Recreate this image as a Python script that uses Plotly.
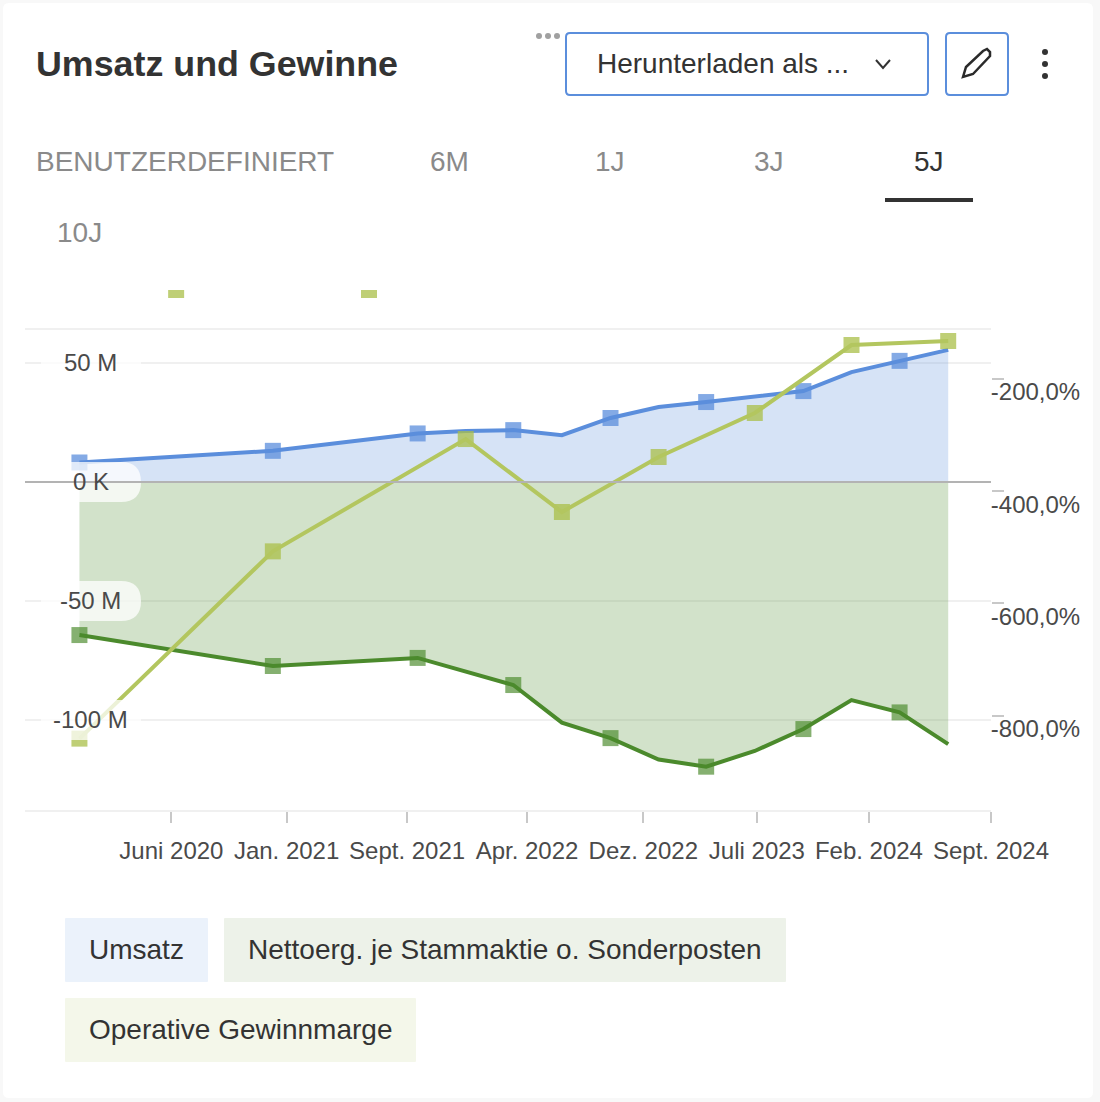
import plotly.graph_objects as go

# ---------- data ----------
quarters = ["2019-12-08","2020-03-08","2020-06-08","2020-09-08","2020-12-08","2021-03-08","2021-06-08",
            "2021-09-08","2021-12-08","2022-03-08","2022-06-08","2022-09-08","2022-12-08","2023-03-08",
            "2023-06-08","2023-09-08","2023-12-08","2024-03-08","2024-06-08"]

revenue_idx = [0,4,7,8,9,10,11,12,13,14,15,16,17,18]
revenue     = [8.2,13.1,20.4,21.4,21.8,19.7,26.9,31.5,33.6,36.1,38.2,46.2,50.9,55.5]
revenue_marker_idx = [0,4,7,9,11,13,15,17]

net_idx = [0,4,7,9,10,11,12,13,14,15,16,17,18]
net     = [-64.3,-77.3,-73.9,-85.3,-101.1,-107.6,-116.6,-119.6,-113.0,-103.8,-91.6,-96.8,-110.1]
net_marker_idx = [0,4,7,9,11,13,15,17]

margin_idx = [0,4,8,10,12,14,16,18]
margin     = [-840.8,-507.1,-307.0,-437.0,-339.0,-260.6,-139.4,-132.3]
margin_offscale_idx = [2,6]
margin_offscale = [-41.4,-41.4]

left_ticks = [64.3,50,0,-50,-100]
left_labels = {50:"50 M",0:"0 K",-50:"-50 M",-100:"-100 M"}
right_ticks = [-200,-400,-600,-800]
right_labels = ["-200,0%","-400,0%","-600,0%","-800,0%"]
x_ticks = ["2020-05-30","2021-01-03","2021-08-19","2022-04-03","2022-11-09","2023-06-12","2024-01-10","2024-08-28"]
x_labels = ["Juni 2020","Jan. 2021","Sept. 2021","Apr. 2022","Dez. 2022","Juli 2023","Feb. 2024","Sept. 2024"]
tabs = [("BENUTZERDEFINIERT",34,161,"#8a8a8a"),("6M",449,161,"#8a8a8a"),("1J",610,161,"#8a8a8a"),
        ("3J",769,161,"#8a8a8a"),("5J",929,161,"#333333"),("10J",79,233,"#8a8a8a")]
series_names = ["Umsatz","Nettoerg. je Stammaktie o. Sonderposten","Operative Gewinnmarge"]

# ---------- style ----------
FONT = "Liberation Sans"
BLUE, DARK, LIGHT = "#5b8edc", "#4b8a2c", "#aabf48"
LIGHT_LINE = "#b3c65f"
L, R, T, B = 25, 991, 290, 810
W, H = 1100, 1102
px = lambda x: (x - L) / (R - L)
py = lambda y: (B - y) / (B - T)

def pick(idx):
    return [quarters[i] for i in idx]

def rrect(x0, y0, x1, y1, r, **kw):
    p = (f"M {px(x0+r)} {py(y0)} L {px(x1-r)} {py(y0)} Q {px(x1)} {py(y0)} {px(x1)} {py(y0+r)} "
         f"L {px(x1)} {py(y1-r)} Q {px(x1)} {py(y1)} {px(x1-r)} {py(y1)} L {px(x0+r)} {py(y1)} "
         f"Q {px(x0)} {py(y1)} {px(x0)} {py(y1-r)} L {px(x0)} {py(y0+r)} Q {px(x0)} {py(y0)} {px(x0+r)} {py(y0)} Z")
    return dict(type="path", path=p, xref="paper", yref="paper", **kw)

def poly(points, close=False, **kw):
    p = "M " + " L ".join(f"{px(a)} {py(b)}" for a, b in points) + (" Z" if close else "")
    return dict(type="path", path=p, xref="paper", yref="paper", **kw)

def text(s, x, y, size, color, anchor="left", weight=None):
    return dict(text=s, x=px(x), y=py(y), xref="paper", yref="paper", showarrow=False, xanchor=anchor,
                yanchor="middle", font=dict(family=FONT, size=size, color=color, weight=weight))

fig = go.Figure()

def add(name, idx, vals, marker_idx, color, yaxis, fill=None, fillcolor=None, line_color=None, opacity=0.75):
    mv = [vals[idx.index(i)] for i in marker_idx]
    fig.add_trace(go.Scatter(x=pick(marker_idx), y=mv, mode="markers", yaxis=yaxis, showlegend=False,
                             marker=dict(symbol="square", size=16, color=color, opacity=opacity, line=dict(width=0))))
    fig.add_trace(go.Scatter(x=pick(idx), y=vals, mode="lines", name=name, yaxis=yaxis, showlegend=False,
                             line=dict(color=line_color or color, width=4), fill=fill, fillcolor=fillcolor))

add(series_names[0], revenue_idx, revenue, revenue_marker_idx, BLUE, "y", "tozeroy", "rgba(91,142,220,0.25)")
add(series_names[2], margin_idx, margin, margin_idx, LIGHT, "y2", line_color=LIGHT_LINE)
fig.add_trace(go.Scatter(x=pick(margin_offscale_idx), y=margin_offscale, mode="markers", yaxis="y2", showlegend=False,
                         marker=dict(symbol="square", size=16, color=LIGHT, opacity=0.75, line=dict(width=0))))
add(series_names[1], net_idx, net, net_marker_idx, DARK, "y", "tozeroy", "rgba(75,138,44,0.25)", opacity=0.68)

shapes = [
    dict(type="rect", xref="paper", yref="paper", x0=px(0), x1=px(W), y0=py(0), y1=py(H),
         fillcolor="#f8f8f8", line_width=0, layer="below"),
    rrect(3, 3, 1093, 1098, 6, fillcolor="#ffffff", line_width=0, layer="below"),
    rrect(566, 33, 928, 95, 4, fillcolor="#ffffff", line=dict(color=BLUE, width=2)),
    rrect(946, 33, 1008, 95, 4, fillcolor="#ffffff", line=dict(color=BLUE, width=2)),
    poly([(876,60),(883,68),(890,60)], line=dict(color="#333333", width=2)),
    poly([(963,77),(966,67),(983,51),(987,49),(990,52),(990,56),(973,74)], close=True, line=dict(color="#2a2a2a", width=2.5)),
    dict(type="rect", xref="paper", yref="paper", x0=px(885), x1=px(973), y0=py(198), y1=py(202),
         fillcolor="#333333", line_width=0),
    rrect(65, 918, 208, 982, 1, fillcolor="#ebf2fb", line_width=0),
    rrect(224, 918, 786, 982, 1, fillcolor="#edf2e9", line_width=0),
    rrect(65, 998, 416, 1062, 1, fillcolor="#f4f7ea", line_width=0),
]
for cx in (539, 548, 557):
    shapes.append(dict(type="circle", xref="paper", yref="paper", x0=px(cx-3), x1=px(cx+3), y0=py(33), y1=py(39),
                       fillcolor="#a0a0a0", line_width=0))
for cy in (52, 64, 76):
    shapes.append(dict(type="circle", xref="paper", yref="paper", x0=px(1042), x1=px(1048), y0=py(cy-3), y1=py(cy+3),
                       fillcolor="#333333", line_width=0))
for v in left_labels:
    cy = 482 - v * 2.38
    shapes.append(rrect(41, cy-20, 141, cy+20, 20, fillcolor="rgba(255,255,255,0.75)", line_width=0))
shapes.append(dict(type="line", xref="paper", yref="y", x0=0, x1=1, y0=0, y1=0, line=dict(color="#b3b3b3", width=2)))

annotations = [
    text("Umsatz und Gewinne", 34, 63.5, 35.8, "#333333", weight="bold"),
    text("Herunterladen als ...", 595, 63.5, 28, "#333333"),
    text(series_names[0], 87, 949.5, 28, "#333333"),
    text(series_names[1], 246, 949.5, 28, "#333333"),
    text(series_names[2], 87, 1029.5, 28, "#333333"),
]
for s, x, y, c in tabs:
    annotations.append(text(s, x, y, 28, c, anchor="left" if s == "BENUTZERDEFINIERT" else "center"))
for v, s in left_labels.items():
    annotations.append(dict(text=s, x=px(90.5), y=v, yshift=1, xref="paper", yref="y", showarrow=False, xanchor="center", yanchor="middle",
                            font=dict(family=FONT, size=24, color="#4a4a4a")))

fig.update_layout(
    width=W, height=H, margin=dict(l=L, r=W-R, t=T, b=H-B), paper_bgcolor="#f8f8f8", plot_bgcolor="rgba(0,0,0,0)",
    font=dict(family=FONT, color="#4a4a4a", size=24), hovermode=False,
    xaxis=dict(type="date", range=["2019-08-27","2024-08-28"], tickmode="array", tickvals=x_ticks, ticktext=x_labels,
               ticks="outside", ticklen=11, tickwidth=2, tickcolor="#c8c8c8", showgrid=False, zeroline=False,
               showline=True, linecolor="#f0f0f0", linewidth=2, ticklabelstandoff=7,
               tickangle=0, tickfont=dict(family=FONT, size=24, color="#4a4a4a")),
    yaxis=dict(range=[-137.8,80.67], tickmode="array", tickvals=left_ticks, showticklabels=False, ticks="",
               showgrid=True, gridcolor="#f0f0f0", gridwidth=2, zeroline=False, showline=False),
    yaxis2=dict(range=[-968,-41.4], overlaying="y", side="right", tickmode="array", tickvals=right_ticks, ticktext=right_labels,
                ticks="outside", ticklen=12, tickwidth=2, tickcolor="#c8c8c8", showgrid=False, zeroline=False, showline=False,
                ticklabelstandoff=-18, ticklabelshift=13, tickfont=dict(family=FONT, size=24, color="#4a4a4a")),
    shapes=shapes, annotations=annotations,
)

fig.write_html("out.html", config=dict(displayModeBar=False),
               post_script="document.body.style.margin='0';document.body.style.overflow='hidden';")
